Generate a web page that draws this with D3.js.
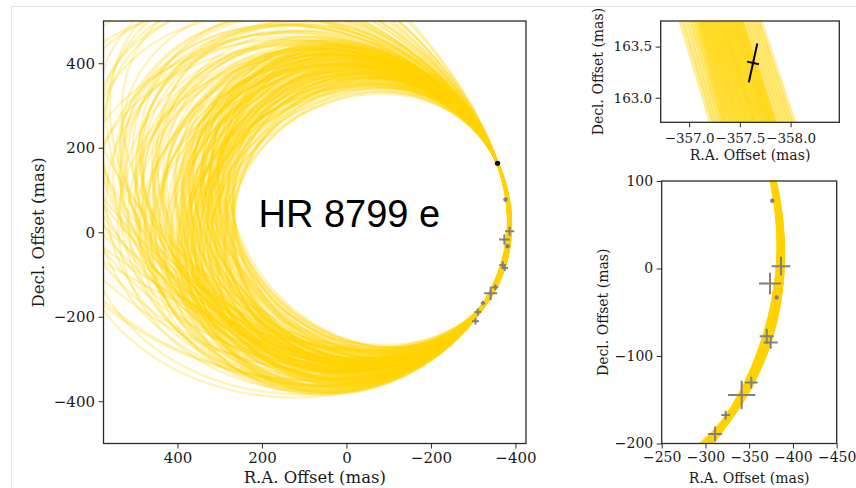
<!DOCTYPE html>
<html>
<head>
<meta charset="utf-8">
<script src="https://cdn.jsdelivr.net/npm/d3@7"></script>
<style>
  html, body { margin: 0; padding: 0; background: #ffffff; }
  svg { display: block; }
</style>
</head>
<body>
<svg id="fig" width="856" height="488"></svg>
<script>
// ---------------- data ----------------
// tick values
const raTicksMain  = [400, 200, 0, -200, -400];
const decTicksMain = [400, 200, 0, -200, -400];
const raTicksZoom  = [-250, -300, -350, -400, -450];
const decTicksZoom = [100, 0, -100, -200];
const raTicksInset  = [-357.0, -357.5, -358.0];
const decTicksInset = [163.0, 163.5];

// relative astrometry of HR 8799 e with error bars (mas)
const obsRA     = [-386.3, -373.8, -370.0, -374.6, -352.4, -341.4, -323.1, -311.0, -305.5];
const obsDec    = [2.6, -17.2, -77.5, -84.7, -130.3, -144.5, -167.5, -189.0, -210.5];
const obsRAErr  = [10.7, 12.6, 8.0, 8.0, 7.2, 15.6, 5.0, 8.0, 8.0];
const obsDecErr = [10.7, 12.3, 8.6, 7.0, 6.7, 16.3, 5.0, 8.3, 8.0];
// high-precision epochs plotted as small dots
const preciseRA  = [-376.4, -381.4];
const preciseDec = [77.4, -33.0];
// GRAVITY epoch and its error-ellipse axes (half-lengths as RA/Dec offsets, mas)
const gravRA  = -357.63;
const gravDec = 163.34;
const gravAxisLong  = [-0.042, 0.190];
const gravAxisShort = [-0.058, -0.013];

// points the orbit tracks share along the observed arc (mas)
const arcAnchorRA  = [-357.6, -383.5, -339.4];
const arcAnchorDec = [163.3, -20.0, -150.0];

// each orbit track: RA where it crosses Dec = 0 on the far side,
// Dec where it crosses RA = 0 at the top, and its small RA shift along the observed arc
const orbitLeft = [258,263,267,271,274,278,281,285,288,291,
                   294,297,300,303,306,309,312,315,318,321,
                   324,327,330,333,336,339,342,345,348,351,
                   354,357,360,363,366,369,372,375,378,381,
                   384,387,390,393,396,399,256,261,266,270,
                   276,280,284,289,293,298,302,307,311,316,
                   320,325,329,334,338,343,347,352,356,361,
                   365,370,374,379,383,388,392,397,259,265,
                   272,279,286,292,299,305,313,319,326,332,
                   340,346,353,359,367,373,380,386,394,400,
                   262,283,304,323,344,364,385,268,317,362,
                   404,410,417,423,430,436,443,449,456,462,
                   469,475,482,488,408,415,427,440,452,466,
                   478,420,445,470,490,
                   500,515,530,548,565,585,605,625,650,675,
                   700,540,580,620,720,
                   412,418,425,433,441,448,455,463,471,479,
                   487,495,503,511,519,430,455,480,505,440,
                   470,500,525,545,560,415,438,462,490,515,
                   560,620,680,520];
const orbitTop  = [402,371,436,345,418,388,452,330,407,362,
                   441,384,322,425,396,350,447,375,412,338,
                   430,391,358,420,379,444,326,404,366,433,
                   386,349,416,372,438,397,335,424,381,355,
                   410,368,429,393,343,415,423,386,356,444,
                   399,366,428,341,413,376,450,333,401,360,
                   437,382,319,409,363,426,390,340,419,377,
                   352,406,364,431,389,346,402,374,412,440,
                   373,421,353,394,435,368,418,347,400,371,
                   439,356,394,432,385,421,362,398,420,385,
                   395,378,408,427,373,400,437,360,389,344,
                   440,398,466,420,380,452,409,478,430,392,
                   460,417,486,440,485,373,437,470,398,447,
                   402,412,428,476,420,
                   470,510,445,535,480,455,520,495,440,545,
                   480,415,570,430,510,
                   455,430,478,445,500,462,418,488,440,505,
                   468,430,490,455,515,530,545,560,580,590,
                   520,540,470,500,450,395,410,380,395,425,
                   600,630,650,590];
const orbitShift = [1,-2,3,0,-3,2,-1,4,-4,1,
                    0,-2,2,-3,3,-1,1,-4,0,2,
                    -2,4,-1,3,-3,0,1,-2,2,-4,
                    3,-1,0,1,-3,2,-2,4,0,-1,
                    1,3,-4,2,-2,0,-3,1,4,-1,
                    2,-3,0,3,-2,1,-4,2,0,-1,
                    3,-2,1,-3,4,0,-1,2,-4,3,
                    1,-2,0,2,-3,1,-1,4,-2,0,
                    3,-4,1,2,-1,-3,0,2,-2,4,
                    -1,1,-3,3,0,-2,2,-4,1,0,
                    2,-1,3,-3,0,1,-2,4,-1,2,
                    -3,0,1,-4,3,-1,2,0,-2,1,
                    -3,4,0,-1,2,-2,3,-4,1,0,
                    -1,2,-3,3,0,-2,1,4,-1,-3,
                    2,0,-2,1,3,-4,0,2,-1,1,
                    1,-1,2,-2,3,-3,0,1,-1,2,
                    -2,0,3,-3,1,-1,2,0,-2,1,
                    -3,3,0,-1,2,-2,1,0,-1,2,
                    0,1,-1,2];

// orbit tracks inside the GRAVITY close-up: RA at the upper and lower edges of the panel
const insetTopRA = [-356.92,-356.96,-357.00,-357.03,-357.06,-357.08,
  -357.10,-357.11,-357.12,-357.14,-357.15,-357.16,-357.18,-357.19,-357.20,-357.21,
  -357.23,-357.24,-357.25,-357.27,-357.28,-357.29,-357.31,-357.32,-357.33,-357.34,
  -357.36,-357.37,-357.38,-357.40,-357.41,-357.42,-357.44,-357.45,-357.46,-357.47,
  -357.49,-357.50,-357.51,-357.52,-357.55,-357.58,-357.61,-357.64,-357.67,-357.70];
const insetBottomRA = [-357.22,-357.25,-357.28,-357.31,-357.33,-357.35,
  -357.36,-357.38,-357.40,-357.42,-357.43,-357.45,-357.47,-357.48,-357.50,-357.51,
  -357.53,-357.55,-357.56,-357.58,-357.59,-357.61,-357.63,-357.64,-357.65,-357.66,
  -357.68,-357.70,-357.71,-357.73,-357.74,-357.75,-357.77,-357.78,-357.79,-357.80,
  -357.82,-357.83,-357.84,-357.85,-357.88,-357.91,-357.94,-357.97,-358.00,-358.03];
const insetEdgeDec = [163.75, 162.76];

// ---------------- geometry helpers ----------------
// ellipse through five sky points: a u^2 + b uv + c v^2 + d u + e v = 1
function conicThrough(pts) {
  const s = 400;
  const M = pts.map(([x, y]) => { const u = x / s, v = y / s; return [u*u, u*v, v*v, u, v, 1]; });
  for (let i = 0; i < 5; i++) {
    let p = i;
    for (let r = i + 1; r < 5; r++) if (Math.abs(M[r][i]) > Math.abs(M[p][i])) p = r;
    [M[i], M[p]] = [M[p], M[i]];
    for (let r = 0; r < 5; r++) {
      if (r === i) continue;
      const f = M[r][i] / M[i][i];
      for (let c = i; c < 6; c++) M[r][c] -= f * M[i][c];
    }
  }
  const [a, b, c, d, e] = M.map((row, i) => row[5] / row[i]);
  const det = 4*a*c - b*b;
  if (!(det > 0)) return null;
  const u0 = (b*e - 2*c*d) / det, v0 = (b*d - 2*a*e) / det;
  const g0 = (d*u0 + e*v0) / 2 - 1;
  const h = Math.sqrt(((a - c) / 2) ** 2 + (b / 2) ** 2);
  const l1 = (a + c) / 2 + h, l2 = (a + c) / 2 - h;
  if (!(l2 > 0) || !(g0 < 0)) return null;
  return { cx: u0*s, cy: v0*s, r1: Math.sqrt(-g0/l1)*s, r2: Math.sqrt(-g0/l2)*s,
           angle: 0.5 * Math.atan2(b, a - c) * 180 / Math.PI };
}

const orbits = orbitLeft.map((L, i) => conicThrough([
  [arcAnchorRA[0], arcAnchorDec[0]],
  [arcAnchorRA[1] + orbitShift[i], arcAnchorDec[1]],
  [arcAnchorRA[2] + orbitShift[i], arcAnchorDec[2]],
  [L, 0],
  [0, orbitTop[i]]
])).filter(o => o && o.r2 < 5000);

// ---------------- layout ----------------
const svg = d3.select("#fig");
const SERIF = "'DejaVu Serif', serif";
const GOLD = "#ffd400";
const FRAME = "#2b2b2b";

svg.append("rect").attr("x", 11.5).attr("y", 6.5).attr("width", 900).attr("height", 600)
  .attr("fill", "none").attr("stroke", "#e6e6e6").attr("stroke-width", 1);

const xMain = d3.scaleLinear().domain([575, -425]).range([103.5, 526]);
const yMain = d3.scaleLinear().domain([-500, 500]).range([443.5, 21]);
const xZoom = d3.scaleLinear().domain([-250, -450]).range([661.7, 836.7]);
const yZoom = d3.scaleLinear().domain([-200, 100]).range([443.5, 181]);
const xIn = d3.scaleLinear().domain([-356.72, -358.48]).range([660.7, 839.3]);
const yIn = d3.scaleLinear().domain([162.76, 163.75]).range([122.3, 21]);

const defs = svg.append("defs");
function clipFor(id, xs, ys) {
  const [x0, x1] = xs.range(), [y1, y0] = ys.range();
  defs.append("clipPath").attr("id", id).append("rect")
    .attr("x", x0).attr("y", y0).attr("width", x1 - x0).attr("height", y1 - y0);
  return `url(#${id})`;
}

function drawOrbits(xs, ys, clip, width, opacity) {
  const k = Math.abs(xs(1) - xs(0));
  svg.append("g").attr("clip-path", clip)
    .selectAll("ellipse").data(orbits).join("ellipse")
      .attr("cx", d => xs(d.cx)).attr("cy", d => ys(d.cy))
      .attr("rx", d => d.r1 * k).attr("ry", d => d.r2 * k)
      .attr("transform", d => `rotate(${d.angle},${xs(d.cx)},${ys(d.cy)})`)
      .attr("fill", "none").attr("stroke", GOLD)
      .attr("stroke-width", width).attr("stroke-opacity", opacity);
}

function drawObs(xs, ys, clip, lw, dotR) {
  const g = svg.append("g").attr("clip-path", clip);
  const idx = d3.range(obsRA.length);
  g.selectAll("line.h").data(idx).join("line").attr("class", "h")
    .attr("x1", i => xs(obsRA[i] - obsRAErr[i])).attr("x2", i => xs(obsRA[i] + obsRAErr[i]))
    .attr("y1", i => ys(obsDec[i])).attr("y2", i => ys(obsDec[i]))
    .attr("stroke", "#808080").attr("stroke-width", lw);
  g.selectAll("line.v").data(idx).join("line").attr("class", "v")
    .attr("x1", i => xs(obsRA[i])).attr("x2", i => xs(obsRA[i]))
    .attr("y1", i => ys(obsDec[i] - obsDecErr[i])).attr("y2", i => ys(obsDec[i] + obsDecErr[i]))
    .attr("stroke", "#808080").attr("stroke-width", lw);
  g.selectAll("circle").data(preciseRA).join("circle")
    .attr("cx", (d) => xs(d)).attr("cy", (d, i) => ys(preciseDec[i]))
    .attr("r", dotR).attr("fill", "#808080");
  return g;
}

function frame(xs, ys) {
  const [x0, x1] = xs.range(), [y1, y0] = ys.range();
  svg.append("rect").attr("x", x0).attr("y", y0).attr("width", x1 - x0).attr("height", y1 - y0)
    .attr("fill", "none").attr("stroke", FRAME).attr("stroke-width", 1.3);
}

function axes(xs, ys, xt, yt, fmt, fs, xPad) {
  const gx = svg.append("g").attr("transform", `translate(0,${ys.range()[0]})`)
    .call(d3.axisBottom(xs).tickValues(xt).tickFormat(fmt).tickSize(5).tickPadding(xPad).tickSizeOuter(0));
  const gy = svg.append("g").attr("transform", `translate(${xs.range()[0]},0)`)
    .call(d3.axisLeft(ys).tickValues(yt).tickFormat(fmt).tickSize(5).tickPadding(3.5).tickSizeOuter(0));
  [gx, gy].forEach(g => {
    g.select(".domain").remove();
    g.selectAll(".tick line").attr("stroke", FRAME).attr("stroke-width", 1);
    g.selectAll(".tick text").attr("font-family", SERIF).attr("font-size", fs).attr("fill", "#1a1a1a");
  });
}

function label(text, x, y, fs, rotate) {
  svg.append("text").attr("transform", `translate(${x},${y})` + (rotate ? " rotate(-90)" : ""))
    .attr("text-anchor", "middle").attr("font-family", SERIF).attr("font-size", fs)
    .attr("fill", "#1a1a1a").text(text);
}

// ---------------- main panel ----------------
const clipMain = clipFor("clip-main", xMain, yMain);
drawOrbits(xMain, yMain, clipMain, 2.3, 0.28);
drawObs(xMain, yMain, clipMain, 2, 2.2);
svg.append("circle").attr("cx", xMain(gravRA)).attr("cy", yMain(gravDec)).attr("r", 2.6).attr("fill", "#000");
svg.append("text").attr("x", 258.5).attr("y", 226.7)
  .attr("font-family", "'Liberation Sans', Arial, sans-serif").attr("font-size", 38)
  .attr("fill", "#000").text("HR 8799 e");
frame(xMain, yMain);
axes(xMain, yMain, raTicksMain, decTicksMain, d3.format("d"), 15, 3.5);
label("R.A. Offset (mas)", 314.8, 483, 16.5, false);
label("Decl. Offset (mas)", 44, 232.3, 16.5, true);

// ---------------- GRAVITY close-up ----------------
const clipIn = clipFor("clip-inset", xIn, yIn);
const gIn = svg.append("g").attr("clip-path", clipIn);
gIn.selectAll("line").data(d3.range(insetTopRA.length)).join("line")
  .attr("x1", i => xIn(insetTopRA[i])).attr("y1", yIn(insetEdgeDec[0]))
  .attr("x2", i => xIn(insetBottomRA[i])).attr("y2", yIn(insetEdgeDec[1]))
  .attr("stroke", GOLD).attr("stroke-width", 5).attr("stroke-opacity", 0.4);
[gravAxisLong, gravAxisShort].forEach(v => {
  svg.append("line")
    .attr("x1", xIn(gravRA - v[0])).attr("y1", yIn(gravDec - v[1]))
    .attr("x2", xIn(gravRA + v[0])).attr("y2", yIn(gravDec + v[1]))
    .attr("stroke", "#000").attr("stroke-width", 2);
});
frame(xIn, yIn);
axes(xIn, yIn, raTicksInset, decTicksInset, d3.format(".1f"), 13.5, 6);
label("R.A. Offset (mas)", 750, 160, 14, false);
label("Decl. Offset (mas)", 602.5, 71.6, 14, true);

// ---------------- observed-arc close-up ----------------
const clipZoom = clipFor("clip-zoom", xZoom, yZoom);
drawOrbits(xZoom, yZoom, clipZoom, 2.5, 0.35);
drawObs(xZoom, yZoom, clipZoom, 2, 2.2);
frame(xZoom, yZoom);
axes(xZoom, yZoom, raTicksZoom, decTicksZoom, d3.format("d"), 14, 3.5);
label("R.A. Offset (mas)", 749.2, 483, 14, false);
label("Decl. Offset (mas)", 607.5, 312.3, 14, true);
</script>
</body>
</html>
